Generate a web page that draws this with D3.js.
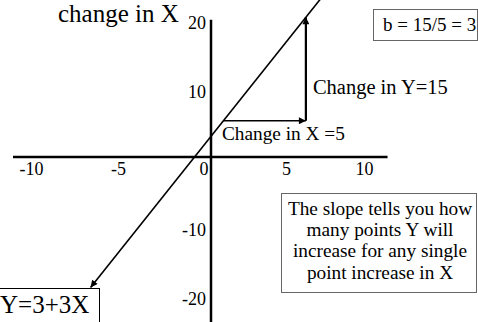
<!DOCTYPE html>
<html>
<head>
<meta charset="utf-8">
<script src="https://cdn.jsdelivr.net/npm/d3@7"></script>
<style>
  html, body { margin: 0; padding: 0; background: #fff; }
  svg { display: block; }
  text { font-family: "Liberation Serif", "Times New Roman", serif; fill: #000; }
</style>
</head>
<body>
<svg id="chart" width="478" height="322"></svg>
<script>
// Axis ticks
const xTicks = [-10, -5, 0, 5, 10];
const yTicks = [-20, -10, 10, 20];
const xAxisExtent = [-12, 10.7];
const yAxisExtent = [-24, 19.9];

// The line Y = a + bX
const intercept = 3;
const slope = 3;
const lineX = [-7.3, 7.2];

// Rise over run triangle
const runStartX = 0.75;
const run = 5;
const rise = 15;

// Annotation texts
const titleText = "change in X";
const equationText = "Y=3+3X";
const slopeText = "b = 15/5 = 3";
const riseText = "Change in Y=15";
const runText = "Change in X =5";
const noteLines = ["The slope tells you how", "many points Y will", "increase for any single", "point increase in X"];

const svg = d3.select("#chart");

const x = d3.scaleLinear().domain([-10, 10]).range([46, 376]);
const y = d3.scaleLinear().domain([-20, 20]).range([295, 19]);
const fmt = d => String(d);   // plain hyphen for negatives

// arrow heads
const defs = svg.append("defs");
defs.append("marker")
  .attr("id", "head")
  .attr("viewBox", "0 0 10 10")
  .attr("refX", 10).attr("refY", 5)
  .attr("markerUnits", "userSpaceOnUse")
  .attr("markerWidth", 8).attr("markerHeight", 7)
  .attr("orient", "auto-start-reverse")
  .append("path").attr("d", "M0,0 L10,5 L0,10 z").attr("fill", "#000");

// axes lines
svg.append("line")
  .attr("x1", x(xAxisExtent[0])).attr("x2", x(xAxisExtent[1]))
  .attr("y1", y(0)).attr("y2", y(0))
  .attr("stroke", "#000").attr("stroke-width", 2.5);
svg.append("line")
  .attr("x1", x(0)).attr("x2", x(0))
  .attr("y1", y(yAxisExtent[1])).attr("y2", y(yAxisExtent[0]))
  .attr("stroke", "#000").attr("stroke-width", 2.5);

// tick labels
const gx = svg.append("g")
  .attr("transform", `translate(0,${y(0)})`)
  .call(d3.axisBottom(x).tickValues(xTicks).tickSize(0).tickFormat(fmt));
gx.select(".domain").remove();
gx.selectAll("text")
  .attr("y", 18).attr("dy", 0).attr("dx", -3)
  .attr("text-anchor", "end")
  .style("font-family", '"Liberation Serif", "Times New Roman", serif')
  .style("font-size", "18px").attr("fill", "#000");

const gy = svg.append("g")
  .attr("transform", `translate(${x(0)},0)`)
  .call(d3.axisLeft(y).tickValues(yTicks).tickSize(0).tickPadding(5).tickFormat(fmt));
gy.select(".domain").remove();
gy.selectAll("text")
  .attr("dy", "0.5em")
  .style("font-family", '"Liberation Serif", "Times New Roman", serif')
  .style("font-size", "18px").attr("fill", "#000");

// the fitted line
const linePts = lineX.map(v => [v, intercept + slope * v]);
svg.append("path")
  .attr("d", d3.line().x(d => x(d[0])).y(d => y(d[1]))(linePts))
  .attr("fill", "none").attr("stroke", "#000").attr("stroke-width", 1.6)
  .attr("marker-start", "url(#head)");

// run (horizontal) and rise (vertical) arrows
const y0 = intercept + slope * runStartX;
svg.append("line")
  .attr("x1", x(runStartX)).attr("y1", y(y0))
  .attr("x2", x(runStartX + run)).attr("y2", y(y0))
  .attr("stroke", "#000").attr("stroke-width", 1.6)
  .attr("marker-end", "url(#head)");
svg.append("line")
  .attr("x1", x(runStartX + run)).attr("y1", y(y0))
  .attr("x2", x(runStartX + run)).attr("y2", y(y0 + rise))
  .attr("stroke", "#000").attr("stroke-width", 2.2)
  .attr("marker-end", "url(#head)");

// labels for the triangle
svg.append("text").attr("x", x(runStartX + run) + 7).attr("y", 94)
  .style("font-size", "20.5px").text(riseText);
svg.append("text").attr("x", 222).attr("y", 140)
  .style("font-size", "19.3px").text(runText);

// title text at the top
svg.append("text").attr("x", 58).attr("y", 22)
  .style("font-size", "25px").text(titleText);

// slope box
svg.append("rect").attr("x", 373.5).attr("y", 9.5).attr("width", 104).attr("height", 31)
  .attr("fill", "#fff").attr("stroke", "#666").attr("stroke-width", 1);
svg.append("text").attr("x", 383).attr("y", 31)
  .style("font-size", "19px").text(slopeText);

// note box
svg.append("rect").attr("x", 281.5).attr("y", 193.5).attr("width", 195).attr("height", 99)
  .attr("fill", "#fff").attr("stroke", "#666").attr("stroke-width", 1);
svg.append("g").selectAll("text").data(noteLines).join("text")
  .attr("x", 380).attr("y", (d, i) => 215 + i * 21.2)
  .attr("text-anchor", "middle")
  .style("font-size", "19.3px").text(d => d);

// equation box
svg.append("rect").attr("x", -1).attr("y", 288.5).attr("width", 100.5).attr("height", 34)
  .attr("fill", "#fff").attr("stroke", "#000").attr("stroke-width", 1);
svg.append("text").attr("x", 0).attr("y", 313)
  .style("font-size", "25px").text(equationText);
</script>
</body>
</html>
